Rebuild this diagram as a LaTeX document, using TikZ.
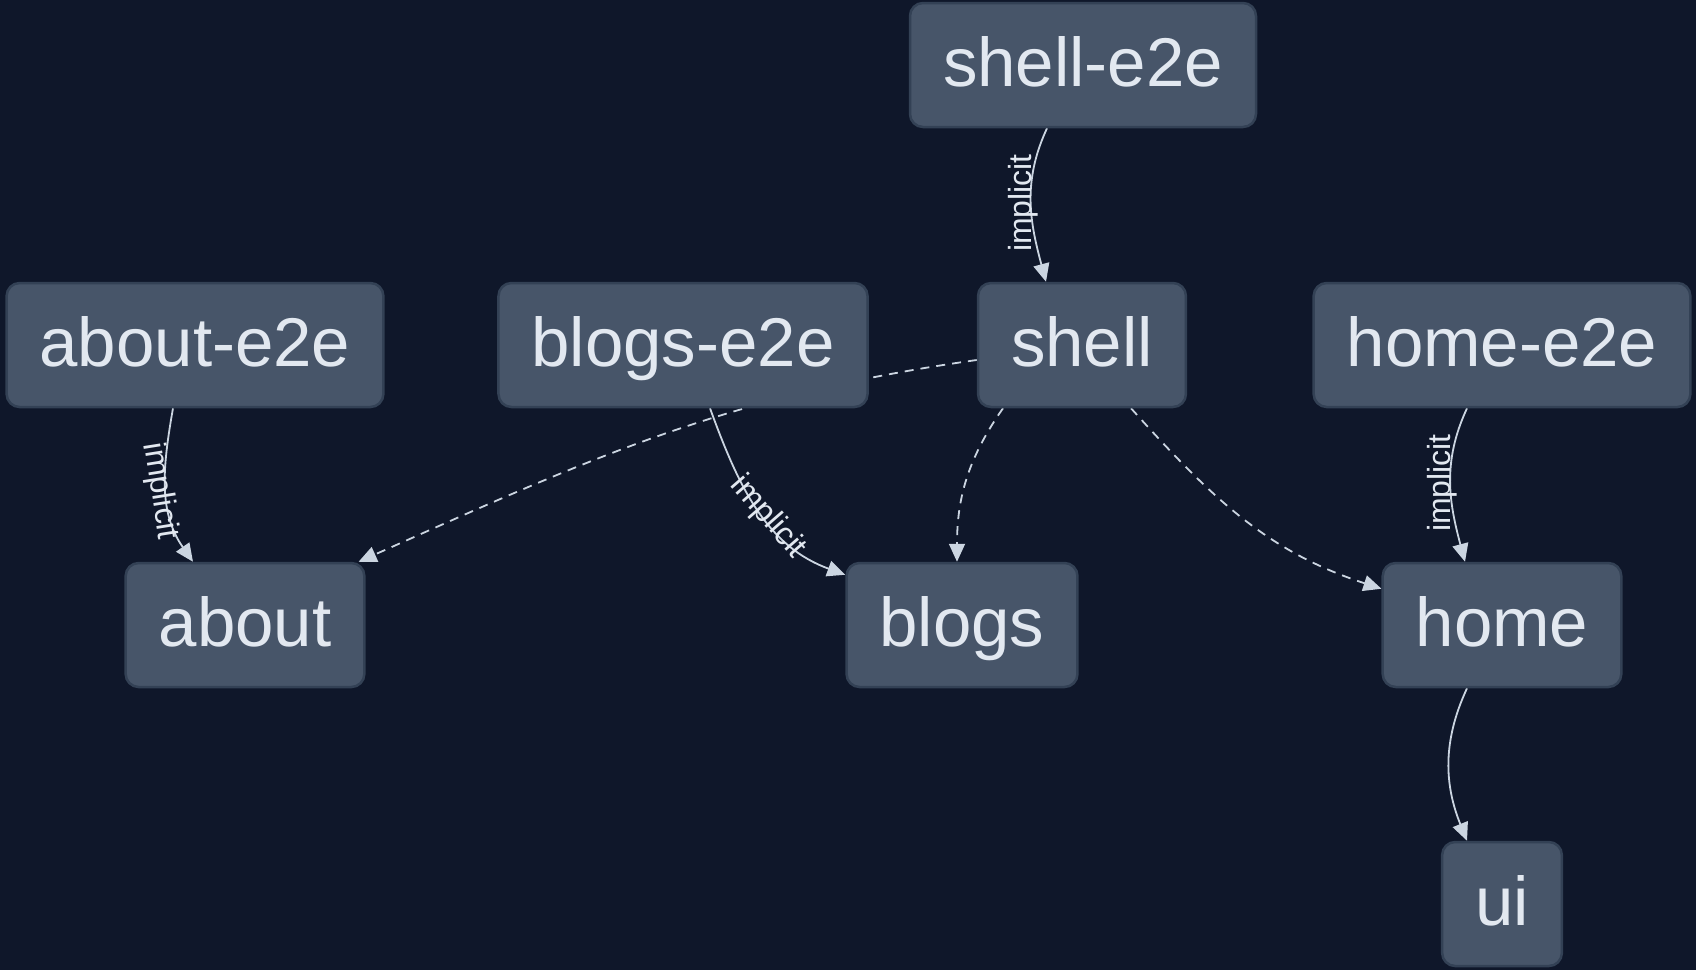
\documentclass[tikz,border=0pt]{standalone}
\usepackage{fontspec}
\setmainfont{Liberation Sans}
\usetikzlibrary{arrows.meta, calc}
\definecolor{bgc}{HTML}{0F172A}
\definecolor{nodefill}{HTML}{475569}
\definecolor{nodeline}{HTML}{334155}
\definecolor{txt}{HTML}{E2E8F0}
\definecolor{edgec}{HTML}{CBD5E1}
\pgfdeclarelayer{bglayer}
\pgfdeclarelayer{edgelayer}
\pgfsetlayers{bglayer,edgelayer,main}
\begin{document}
\begin{tikzpicture}[x=1pt,y=1pt,
  box/.style={draw=nodeline, line width=2.5pt, fill=nodefill, rounded corners=13pt,
    text=txt, font=\fontsize{69}{80}\selectfont, inner xsep=33pt, inner ysep=0pt,
    text height=56pt, text depth=14pt, minimum height=124pt},
  conn/.style={draw=edgec, line width=1.8pt, -{Triangle[length=18pt,width=16pt]}},
  dashconn/.style={conn, dash pattern=on 9pt off 7pt},
  lab/.style={text=txt, font=\fontsize{32}{36}\selectfont, inner sep=0pt,
    text height=24pt, text depth=7pt}
]
\useasboundingbox (0,0) rectangle (1696,-970);
\begin{pgfonlayer}{bglayer}
\fill[bgc] (0,0) rectangle (1696,-970);
\end{pgfonlayer}

\node[box] (shelle2e) at (1083,-65) {shell-e2e};
\node[box] (aboute2e) at (195,-345) {about-e2e};
\node[box] (blogse2e) at (683,-345) {blogs-e2e};
\node[box] (shell) at (1082,-345) {shell};
\node[box] (homee2e) at (1502,-345) {home-e2e};
\node[box] (about) at (245,-625) {about};
\node[box] (blogs) at (962,-625) {blogs};
\node[box] (home) at (1502,-625) {home};
\node[box] (ui) at (1502,-904) {ui};

\begin{pgfonlayer}{edgelayer}
\draw[conn] ([xshift=-36pt]shelle2e.south) to[out=-115,in=105] ([xshift=-36pt]shell.north);
\draw[conn] ([xshift=-22pt]aboute2e.south) to[out=-100,in=125] ([xshift=-52pt]about.north);
\draw[conn] ([xshift=27pt]blogse2e.south) to[out=-70,in=160] ([yshift=-13pt]blogs.north west);
\draw[dashconn] ([xshift=-79pt]shell.south) to[out=-125,in=90] ([xshift=-5pt]blogs.north);
\draw[dashconn] ([xshift=49pt]shell.south) to[out=-48,in=162] ([yshift=-27pt]home.north west);
\draw[dashconn] ([yshift=-15pt]shell.west) to[out=188,in=24] ([xshift=-7pt]about.north east);
\draw[conn] ([xshift=-35pt]homee2e.south) to[out=-115,in=105] ([xshift=-37pt]home.north);
\draw[conn] ([xshift=-35pt]home.south) to[out=-115,in=112] ([xshift=-35pt]ui.north);

\node[lab, rotate=90] (l1) at (1023,-203) {implicit};
\node[lab, rotate=-81] (l2) at (160,-491) {implicit};
\node[lab, rotate=-49] (l3) at (768,-517) {implicit};
\node[lab, rotate=90] (l4) at (1442,-483) {implicit};
\end{pgfonlayer}
\end{tikzpicture}
\end{document}
